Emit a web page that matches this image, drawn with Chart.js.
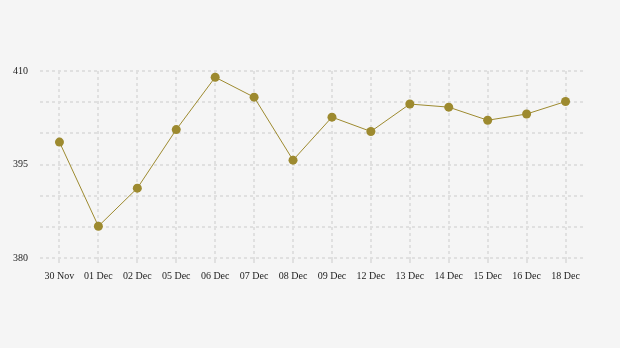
<!DOCTYPE html>
<html lang="en">
<head>
    <meta charset="UTF-8">
    <title>Chart</title>
    <script src="https://cdn.jsdelivr.net/npm/chart.js@4/dist/chart.umd.min.js"></script>
    <style>
        * { margin: 0; padding: 0; box-sizing: border-box; }
        body { background: #f5f5f5; width: 620px; height: 348px; overflow: hidden; }
        .chart-box { position: relative; width: 620px; height: 348px; }
    </style>
</head>
<body>
    <div class="chart-box">
        <canvas id="lineChart"></canvas>
    </div>
    <script>
        // Data
        const dates = ['30 Nov', '01 Dec', '02 Dec', '05 Dec', '06 Dec', '07 Dec', '08 Dec',
            '09 Dec', '12 Dec', '13 Dec', '14 Dec', '15 Dec', '16 Dec', '18 Dec'];
        const values = [398.6, 385.1, 391.2, 400.6, 409.0, 405.8, 395.7,
            402.6, 400.3, 404.7, 404.2, 402.1, 403.1, 405.1];
        const yLabels = [380, 395, 410];

        const gold = '#9d8a2f';
        const gridColor = '#e0e0e0';

        new Chart(document.getElementById('lineChart'), {
            type: 'line',
            data: {
                labels: dates,
                datasets: [{
                    data: values,
                    borderColor: gold,
                    backgroundColor: gold,
                    borderWidth: 1,
                    pointRadius: 4.5,
                    pointBackgroundColor: gold,
                    pointBorderWidth: 0,
                    tension: 0
                }]
            },
            options: {
                responsive: true,
                maintainAspectRatio: false,
                animation: false,
                layout: { padding: { top: 71, right: 35, left: 0, bottom: 0 } },
                plugins: { legend: { display: false }, tooltip: { enabled: false } },
                scales: {
                    x: {
                        offset: true,
                        grid: {
                            offset: false,
                            color: gridColor,
                            lineWidth: 2,
                            tickLength: 5
                        },
                        border: { display: false, dash: [3, 3] },
                        ticks: {
                            color: '#222',
                            font: { family: 'Liberation Serif', size: 10 },
                            padding: 7,
                            maxRotation: 0,
                            autoSkip: false
                        },
                        afterFit: (scale) => { scale.height = 90; }
                    },
                    y: {
                        min: 380,
                        max: 410,
                        grid: {
                            color: gridColor,
                            lineWidth: 2,
                            drawTicks: false
                        },
                        border: { display: false, dash: [3, 3] },
                        ticks: {
                            stepSize: 5,
                            color: '#222',
                            font: { family: 'Liberation Serif', size: 10 },
                            padding: 12,
                            callback: (v) => yLabels.includes(v) ? v : ''
                        },
                        afterFit: (scale) => { scale.width = 40; }
                    }
                }
            }
        });
    </script>
</body>
</html>
